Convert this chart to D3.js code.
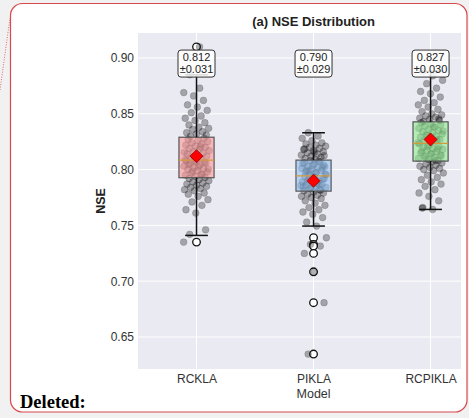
<!DOCTYPE html>
<html><head><meta charset="utf-8">
<script src="https://cdn.jsdelivr.net/npm/d3@7"></script>
<style>html,body{margin:0;padding:0;background:#f1f1f1;}svg{display:block;}</style>
</head><body>
<script>
const categories = ["RCKLA", "PIKLA", "RCPIKLA"];
const q1 = [0.7927, 0.7807, 0.8076];
const medians = [0.8085, 0.7944, 0.8235];
const q3 = [0.829, 0.8085, 0.8428];
const whiskerLow = [0.741, 0.7494, 0.7643];
const whiskerHigh = [0.885, 0.833, 0.888];
const means = [0.812, 0.790, 0.827];
const stds = [0.031, 0.029, 0.030];
const fliers = [[0.735, 0.910], [0.7389, 0.733, 0.7315, 0.7249, 0.7084, 0.6807, 0.6347], []];
const yTicks = [0.65, 0.70, 0.75, 0.80, 0.85, 0.90];
const pointsRCKLA = [0.735, 0.910,
  0.742, 0.746, 0.761, 0.764, 0.768, 0.771, 0.773, 0.776, 0.778, 0.779, 0.781, 0.782, 0.783, 0.784, 0.785, 0.786, 0.787, 0.788, 0.789, 0.790, 0.791, 0.792,
  0.793, 0.794, 0.795, 0.796, 0.797, 0.798, 0.799, 0.800, 0.801, 0.802, 0.803, 0.804, 0.805, 0.806, 0.807, 0.808, 0.7955, 0.7985, 0.8005, 0.8025, 0.8045, 0.8065, 0.8075,
  0.809, 0.810, 0.811, 0.812, 0.813, 0.814, 0.815, 0.816, 0.817, 0.818, 0.819, 0.820, 0.821, 0.822, 0.823, 0.824, 0.825, 0.826, 0.827, 0.828, 0.8115, 0.8155, 0.8205,
  0.830, 0.831, 0.832, 0.833, 0.834, 0.836, 0.837, 0.838, 0.840, 0.842, 0.844, 0.846, 0.848, 0.851, 0.853, 0.856, 0.858, 0.862, 0.866, 0.869, 0.873, 0.885];
const pointsPIKLA = [0.6347, 0.6807, 0.7084, 0.7249, 0.7315, 0.733, 0.7389,
  0.7494, 0.753, 0.757, 0.760, 0.762, 0.764, 0.766, 0.768, 0.770, 0.772, 0.774, 0.775, 0.776, 0.777, 0.778, 0.779, 0.780,
  0.781, 0.782, 0.783, 0.784, 0.785, 0.786, 0.787, 0.788, 0.789, 0.790, 0.791, 0.792, 0.793, 0.794, 0.7815, 0.7835, 0.7855, 0.7875, 0.7895, 0.7915, 0.7935, 0.7845, 0.7865,
  0.795, 0.796, 0.797, 0.798, 0.799, 0.800, 0.801, 0.802, 0.803, 0.804, 0.805, 0.806, 0.807, 0.808, 0.7955, 0.7975, 0.7995, 0.8015, 0.8035, 0.8055, 0.8075, 0.7985, 0.8025,
  0.809, 0.810, 0.811, 0.812, 0.813, 0.814, 0.815, 0.816, 0.817, 0.818, 0.819, 0.820, 0.821, 0.822, 0.823, 0.824, 0.826, 0.828, 0.830, 0.833, 0.8125, 0.8155, 0.8185];
const pointsRCPIKLA = [0.7643, 0.766, 0.772, 0.776, 0.779, 0.782, 0.785, 0.787, 0.789, 0.791, 0.793, 0.795, 0.797, 0.799, 0.800, 0.801, 0.802, 0.803, 0.804, 0.805, 0.806, 0.807, 0.7655,
  0.808, 0.809, 0.810, 0.811, 0.812, 0.813, 0.814, 0.815, 0.816, 0.817, 0.818, 0.819, 0.820, 0.821, 0.822, 0.823, 0.8085, 0.8105, 0.8125, 0.8145, 0.8165, 0.8185, 0.8205,
  0.824, 0.825, 0.826, 0.827, 0.828, 0.829, 0.830, 0.831, 0.832, 0.833, 0.834, 0.835, 0.836, 0.837, 0.838, 0.839, 0.840, 0.841, 0.842, 0.8265, 0.8305, 0.8345, 0.8385,
  0.843, 0.844, 0.845, 0.846, 0.847, 0.848, 0.849, 0.850, 0.852, 0.854, 0.856, 0.858, 0.860, 0.862, 0.865, 0.868, 0.870, 0.873, 0.877, 0.880, 0.884, 0.888, 0.8455];
const points = [pointsRCKLA, pointsPIKLA, pointsRCPIKLA];
const boxColors = ["#ff9a9a", "#92c2f5", "#92ee92"];

(function () {
const W = 469, H = 418;
const svg = d3.select("body").append("svg").attr("width", W).attr("height", H);
const font = "'Liberation Sans', Arial, sans-serif";

// page frame
svg.append("rect").attr("x", 0).attr("y", 0).attr("width", W).attr("height", H).attr("fill", "#f1f1f1");
svg.append("rect").attr("x", 10.5).attr("y", 3.5).attr("width", 456.5).attr("height", 408.5)
  .attr("rx", 12).attr("fill", "#ffffff").attr("stroke", "#d9484c").attr("stroke-width", 1.2);
svg.append("line").attr("x1", 0).attr("y1", 90).attr("x2", 10).attr("y2", 18)
  .attr("stroke", "#e06a6d").attr("stroke-width", 1).attr("stroke-dasharray", "1,1.5");

const pL = 138, pR = 461, pT = 33, pB = 369;
const x = d3.scaleLinear().domain([-0.5, 2.26]).range([pL, pR]);
const y = d3.scaleLinear().domain([0.6213, 0.9224]).range([pB, pT]);
const step = x(1) - x(0);

const g = svg.append("g");
g.append("rect").attr("x", pL).attr("y", pT).attr("width", pR - pL).attr("height", pB - pT).attr("fill", "#eaeaf2");

// grid
g.selectAll(".hg").data(yTicks).enter().append("line")
  .attr("x1", pL).attr("x2", pR).attr("y1", d => y(d)).attr("y2", d => y(d))
  .attr("stroke", "#ffffff").attr("stroke-width", 1);
g.selectAll(".vg").data(categories).enter().append("line")
  .attr("x1", (d, i) => x(i)).attr("x2", (d, i) => x(i)).attr("y1", pT).attr("y2", pB)
  .attr("stroke", "#ffffff").attr("stroke-width", 1);

// axes
const yAxis = d3.axisLeft(y).tickValues(yTicks).tickFormat(d3.format(".2f")).tickSize(0).tickPadding(4);
const ya = svg.append("g").attr("transform", `translate(${pL},0)`).call(yAxis);
ya.select(".domain").remove();
ya.selectAll("text").attr("font-family", font).attr("font-size", 12).attr("fill", "#333");

const xAxis = d3.axisBottom(x).tickValues([0, 1, 2]).tickFormat(i => categories[i]).tickSize(0).tickPadding(5);
const xa = svg.append("g").attr("transform", `translate(0,${pB})`).call(xAxis);
xa.select(".domain").remove();
xa.selectAll("text").attr("font-family", font).attr("font-size", 12).attr("fill", "#333");

svg.append("text").attr("x", x(1)).attr("y", 398).attr("text-anchor", "middle")
  .attr("font-family", font).attr("font-size", 12.5).attr("fill", "#333").text("Model");
svg.append("text").attr("transform", `translate(105,${(pT + pB) / 2}) rotate(-90)`)
  .attr("text-anchor", "middle").attr("font-family", font).attr("font-size", 12.5)
  .attr("font-weight", "bold").attr("fill", "#222").text("NSE");
svg.append("text").attr("x", x(1)).attr("y", 25.5).attr("text-anchor", "middle")
  .attr("font-family", font).attr("font-size", 13).attr("font-weight", "bold").attr("fill", "#222")
  .text("(a) NSE Distribution");

const bw = 0.3 * step, cap = 0.16 * step;

// fliers (under the strip points)
categories.forEach((c, i) => {
  fliers[i].forEach(v => {
    g.append("circle").attr("cx", x(i)).attr("cy", y(v)).attr("r", 3.8)
      .attr("fill", "#fff").attr("stroke", "#111").attr("stroke-width", 1.3);
  });
});

// jittered points
categories.forEach((c, i) => {
  g.append("g").selectAll("circle").data(points[i]).enter().append("circle")
    .attr("cx", (d, k) => x(i + (((k * 0.6180339887 + i * 0.29) % 1) - 0.5) * 0.22))
    .attr("cy", d => y(d)).attr("r", 3.4)
    .attr("fill", "#000").attr("fill-opacity", 0.3)
    .attr("stroke", "#222").attr("stroke-opacity", 0.3).attr("stroke-width", 0.6);
});

// boxes on top of points
categories.forEach((c, i) => {
  const cx = x(i);
  const bg = g.append("g");
  bg.append("rect").attr("x", cx - bw / 2).attr("y", y(q3[i])).attr("width", bw).attr("height", y(q1[i]) - y(q3[i]))
    .attr("fill", boxColors[i]).attr("fill-opacity", 0.62).attr("stroke", "#555").attr("stroke-width", 1.2);
  bg.append("line").attr("x1", cx).attr("x2", cx).attr("y1", y(q1[i])).attr("y2", y(whiskerLow[i]))
    .attr("stroke", "#111").attr("stroke-width", 1.5);
  bg.append("line").attr("x1", cx).attr("x2", cx).attr("y1", y(q3[i])).attr("y2", y(whiskerHigh[i]))
    .attr("stroke", "#111").attr("stroke-width", 1.5);
  [whiskerLow[i], whiskerHigh[i]].forEach(v => {
    bg.append("line").attr("x1", cx - cap / 2 - 2).attr("x2", cx + cap / 2 + 2).attr("y1", y(v)).attr("y2", y(v))
      .attr("stroke", "#111").attr("stroke-width", 1.5);
  });
  bg.append("line").attr("x1", cx - bw / 2).attr("x2", cx + bw / 2).attr("y1", y(medians[i])).attr("y2", y(medians[i]))
    .attr("stroke", "#d49a3a").attr("stroke-width", 1.3);
});

// mean diamonds
categories.forEach((c, i) => {
  const cx = x(i), cy = y(means[i]), s = 6.5;
  g.append("path").attr("d", `M${cx},${cy - s}L${cx + s},${cy}L${cx},${cy + s}L${cx - s},${cy}Z`)
    .attr("fill", "#ff0000").attr("stroke", "#8b0000").attr("stroke-width", 0.8);
});

// labels
categories.forEach((c, i) => {
  const cx = x(i), cy = y(0.895);
  const lg = g.append("g");
  lg.append("rect").attr("x", cx - 18.5).attr("y", cy - 13.5).attr("width", 37).attr("height", 27).attr("rx", 3)
    .attr("fill", "#fff").attr("fill-opacity", 0.85).attr("stroke", "#333").attr("stroke-width", 1);
  lg.append("text").attr("x", cx).attr("y", cy - 2.5).attr("text-anchor", "middle")
    .attr("font-family", font).attr("font-size", 11).attr("fill", "#222").text(d3.format(".3f")(means[i]));
  lg.append("text").attr("x", cx).attr("y", cy + 9.5).attr("text-anchor", "middle")
    .attr("font-family", font).attr("font-size", 11).attr("fill", "#222").text("±" + d3.format(".3f")(stds[i]));
});

svg.append("text").attr("x", 20).attr("y", 407.5).attr("font-family", "'Liberation Serif', 'Times New Roman', serif")
  .attr("font-size", 18.5).attr("font-weight", "bold").attr("fill", "#000").text("Deleted:");
})();
</script>
</body></html>
